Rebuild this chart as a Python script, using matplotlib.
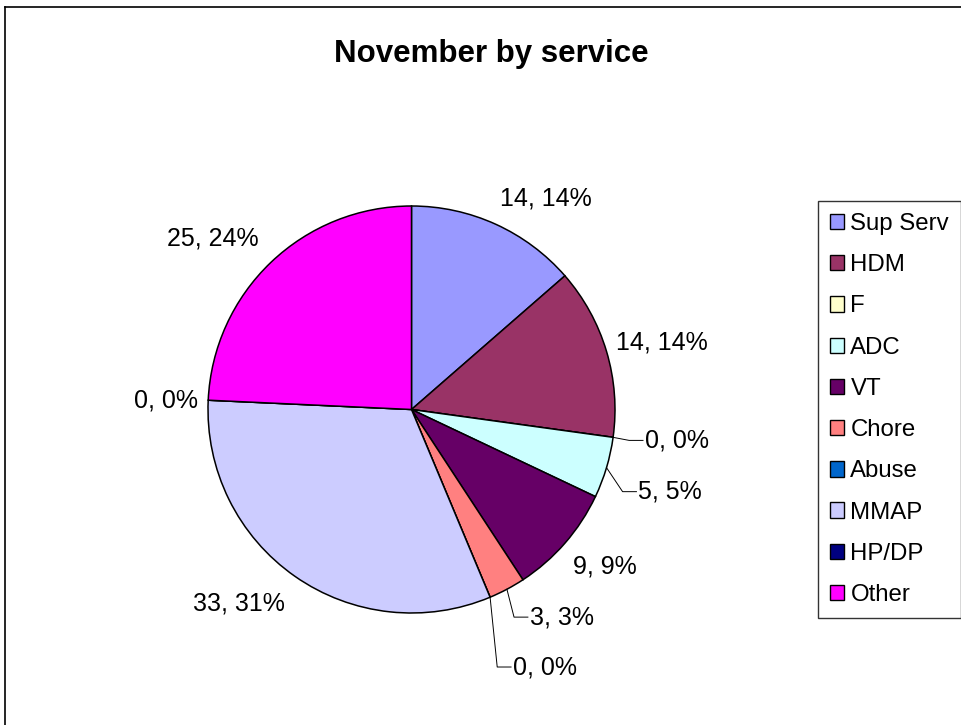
import numpy as np
import matplotlib
matplotlib.use("Agg")
import matplotlib.pyplot as plt
from matplotlib.lines import Line2D

plt.rcParams['font.family'] = ['Liberation Sans', 'DejaVu Sans']

# data
services = ['Sup Serv', 'HDM', 'F', 'ADC', 'VT', 'Chore', 'Abuse', 'MMAP', 'HP/DP', 'Other']
counts = [14, 14, 0, 5, 9, 3, 0, 33, 0, 25]
percents = [14, 14, 0, 5, 9, 3, 0, 31, 0, 24]
colors = ['#9999FF', '#993366', '#FFFFCC', '#CCFFFF', '#660066',
          '#FF8080', '#0066CC', '#CCCCFF', '#000080', '#FF00FF']

# label layout: offset from the wedge's rim point, leader line or not
label_offsets = [(0.247, 0.128), (0.272, 0.043), (0.157, -0.015), (0.157, -0.118),
                 (0.197, -0.113), (0.113, -0.137), (0.113, -0.343), (-0.275, -0.132),
                 (-0.208, 0.0), (-0.287, 0.115)]
leader = [False, False, True, True, False, True, True, False, False, False]

W, H = 962, 725
fig = plt.figure(figsize=(W / 100, H / 100), dpi=100)

# chart area border, only the left and top edges are inside the picture
bx, by = 4.5 / W, 1 - 6.5 / H
fig.add_artist(Line2D([bx, bx], [0, by], transform=fig.transFigure, color='black', linewidth=1.2))
fig.add_artist(Line2D([bx, 1], [by, by], transform=fig.transFigure, color='black', linewidth=1.2))

cx, cy, r = 411.5, 409.5, 203.5
half = 1.1 * r
ax = fig.add_axes([(cx - half) / W, (H - cy - half) / H, 2 * half / W, 2 * half / H])

wedges, _ = ax.pie(counts, colors=colors, startangle=90, counterclock=False,
                   radius=1.0, wedgeprops=dict(edgecolor='black', linewidth=1.1))
ax.set_xlim(-1.1, 1.1)
ax.set_ylim(-1.1, 1.1)
ax.axis('off')

total = float(sum(counts))
cum = np.cumsum([0] + counts)
for i, w in enumerate(wedges):
    a0 = 90 - 360 * cum[i] / total
    a1 = 90 - 360 * cum[i + 1] / total
    mid = np.deg2rad((a0 + a1) / 2)
    ex, ey = np.cos(mid), np.sin(mid)
    dx, dy = label_offsets[i]
    tx, ty = ex + dx, ey + dy
    txt = f"{counts[i]}, {percents[i]}%"
    if leader[i]:
        ax.plot([ex, tx - 0.078, tx - 0.01], [ey, ty, ty], color='black',
                linewidth=0.7, clip_on=False)
        ax.text(tx, ty, txt, ha='left', va='center', fontsize=18, clip_on=False)
    else:
        ax.text(tx, ty, txt, ha='center', va='center', fontsize=18, clip_on=False)

fig.text(491 / W, 1 - 54 / H, 'November by service', ha='center', va='center',
         fontsize=22.5, fontweight='bold')

leg = fig.legend(wedges, services, loc='upper left',
                 bbox_to_anchor=(818 / W, 1 - 201 / H), fontsize=17.3,
                 frameon=True, fancybox=False, shadow=False,
                 handlelength=0.6, handleheight=0.6, handletextpad=0.25,
                 labelspacing=0.8, borderpad=0.5, borderaxespad=0.0)
leg.get_frame().set_edgecolor('black')
leg.get_frame().set_linewidth(1.0)
for h in leg.legend_handles:
    h.set_edgecolor('black')
    h.set_linewidth(1.0)

fig.savefig('out.png', dpi=100)
